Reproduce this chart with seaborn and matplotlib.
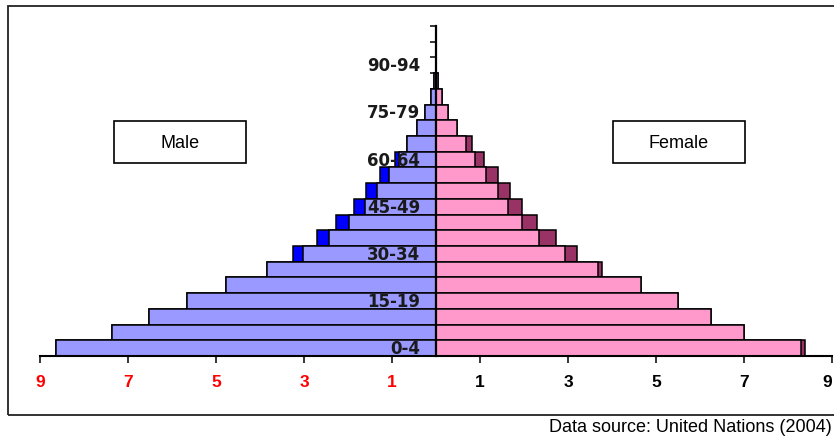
import numpy as np
import pandas as pd
import matplotlib
matplotlib.use("Agg")
import matplotlib.pyplot as plt
from matplotlib.patches import Rectangle
import seaborn as sns

# ---------------- data ----------------
age_groups = ["0-4", "5-9", "10-14", "15-19", "20-24", "25-29", "30-34", "35-39",
              "40-44", "45-49", "50-54", "55-59", "60-64", "65-69", "70-74",
              "75-79", "80-84", "85-89", "90-94", "95-99", "100+"]
# percent of population (main bar) and outer edge (main + darker extension)
male_main = [8.64, 7.36, 6.52, 5.67, 4.78, 3.83, 3.02, 2.43, 1.98, 1.61, 1.35,
             1.06, 0.84, 0.67, 0.43, 0.24, 0.11, 0.05, 0.01, 0.0, 0.0]
male_outer = [8.64, 7.36, 6.52, 5.67, 4.78, 3.83, 3.24, 2.71, 2.27, 1.86, 1.59,
              1.27, 0.94, 0.67, 0.43, 0.24, 0.11, 0.05, 0.01, 0.0, 0.0]
female_main = [8.30, 7.01, 6.25, 5.49, 4.65, 3.69, 2.93, 2.33, 1.96, 1.64, 1.41,
               1.13, 0.89, 0.68, 0.47, 0.28, 0.14, 0.05, 0.01, 0.0, 0.0]
female_outer = [8.39, 7.01, 6.25, 5.49, 4.65, 3.78, 3.20, 2.73, 2.29, 1.96, 1.68,
                1.42, 1.09, 0.81, 0.47, 0.28, 0.14, 0.05, 0.01, 0.0, 0.0]
x_ticks = [-9, -7, -5, -3, -1, 1, 3, 5, 7, 9]
x_tick_labels = ["9", "7", "5", "3", "1", "1", "3", "5", "7", "9"]
labeled_groups = ["0-4", "15-19", "30-34", "45-49", "60-64", "75-79", "90-94"]
source_text = "Data source: United Nations (2004)"

# ---------------- style ----------------
sns.set_theme(style="white")
plt.rcParams["font.family"] = ["Liberation Sans", "DejaVu Sans"]

W, H = 834, 439
fig = plt.figure(figsize=(W / 100, H / 100), dpi=100)
fig.patch.set_facecolor("white")

ax_left, ax_right, ax_top, ax_bottom = 40, 832, 27, 357
ax = fig.add_axes([ax_left / W, (H - ax_bottom) / H,
                   (ax_right - ax_left) / W, (ax_bottom - ax_top) / H])
ax.set_facecolor("white")

order = age_groups[::-1]  # top row first
df = pd.DataFrame({
    "age": age_groups,
    "male_main": -np.array(male_main),
    "male_outer": -np.array(male_outer),
    "female_main": np.array(female_main),
    "female_outer": np.array(female_outer),
})

LIGHT_BLUE = "#9999FF"
DARK_BLUE = "#0000FF"
PINK = "#FF99CC"
MAROON = "#993366"
lw = 1.1

common = dict(y="age", order=order, width=1.0, saturation=1, errorbar=None,
              edgecolor="black", linewidth=lw, orient="h", ax=ax)
sns.barplot(data=df, x="male_outer", color=DARK_BLUE, **common)
sns.barplot(data=df, x="male_main", color=LIGHT_BLUE, **common)
sns.barplot(data=df, x="female_outer", color=MAROON, **common)
sns.barplot(data=df, x="female_main", color=PINK, **common)

ax.set_xlim(-9, 9)
ax.set_ylim(len(order) - 0.5, -0.5)
ax.set_xlabel("")
ax.set_ylabel("")

# spines
for s in ["top", "right"]:
    ax.spines[s].set_visible(False)
ax.spines["left"].set_position(("data", 0))
ax.spines["left"].set_linewidth(1.6)
ax.spines["left"].set_color("black")
ax.spines["left"].set_zorder(3)
ax.spines["bottom"].set_linewidth(1.5)
ax.spines["bottom"].set_color("black")

# x ticks
ax.set_xticks(x_ticks)
ax.set_xticklabels(x_tick_labels)
ax.tick_params(axis="x", direction="out", length=5, width=1.1, color="black",
               pad=8, labelsize=12.5, bottom=True)
xlabels = ax.get_xticklabels()
for lbl, v in zip(xlabels, x_ticks):
    lbl.set_color("red" if v < 0 else "black")
    lbl.set_fontweight("bold")
    lbl.set_family(["Liberation Sans", "DejaVu Sans"])
xlabels[-1].set_horizontalalignment("right")

# y ticks: at row boundaries, no labels
ax.set_yticks(np.arange(-0.5, len(order), 1.0))
ax.set_yticklabels([])
ax.tick_params(axis="y", direction="out", length=4, width=1.1, color="black", left=True)

# age labels
for i, a in enumerate(order):
    if a in labeled_groups:
        ax.annotate(a, xy=(0, i), xytext=(-11.5, 0), textcoords="offset points",
                    ha="right", va="center", fontsize=12, fontweight="bold",
                    color="#1a1a1a", family=["DejaVu Sans"], zorder=6)

# Male / Female boxes
def label_box(x0, x1, y0, y1, text):
    fig.patches.append(Rectangle((x0 / W, 1 - y1 / H), (x1 - x0) / W, (y1 - y0) / H,
                                 transform=fig.transFigure, facecolor="white",
                                 edgecolor="black", linewidth=1.2, zorder=5))
    fig.text((x0 + x1) / 2 / W, 1 - (y0 + y1) / 2 / H, text, ha="center",
             va="center", fontsize=13, color="black", zorder=6)

label_box(114, 246, 122, 164, "Male")
label_box(613, 745, 122, 164, "Female")

# outer frame
fig.patches.append(Rectangle((8 / W, 1 - 416 / H), (840 - 8) / W, (416 - 7) / H,
                             transform=fig.transFigure, facecolor="none",
                             edgecolor="#222222", linewidth=1.3, zorder=0))

fig.text(832 / W, 1 - 428 / H, source_text, ha="right", va="center",
         fontsize=13, color="black")

fig.savefig("out.png", dpi=100, facecolor="white")
